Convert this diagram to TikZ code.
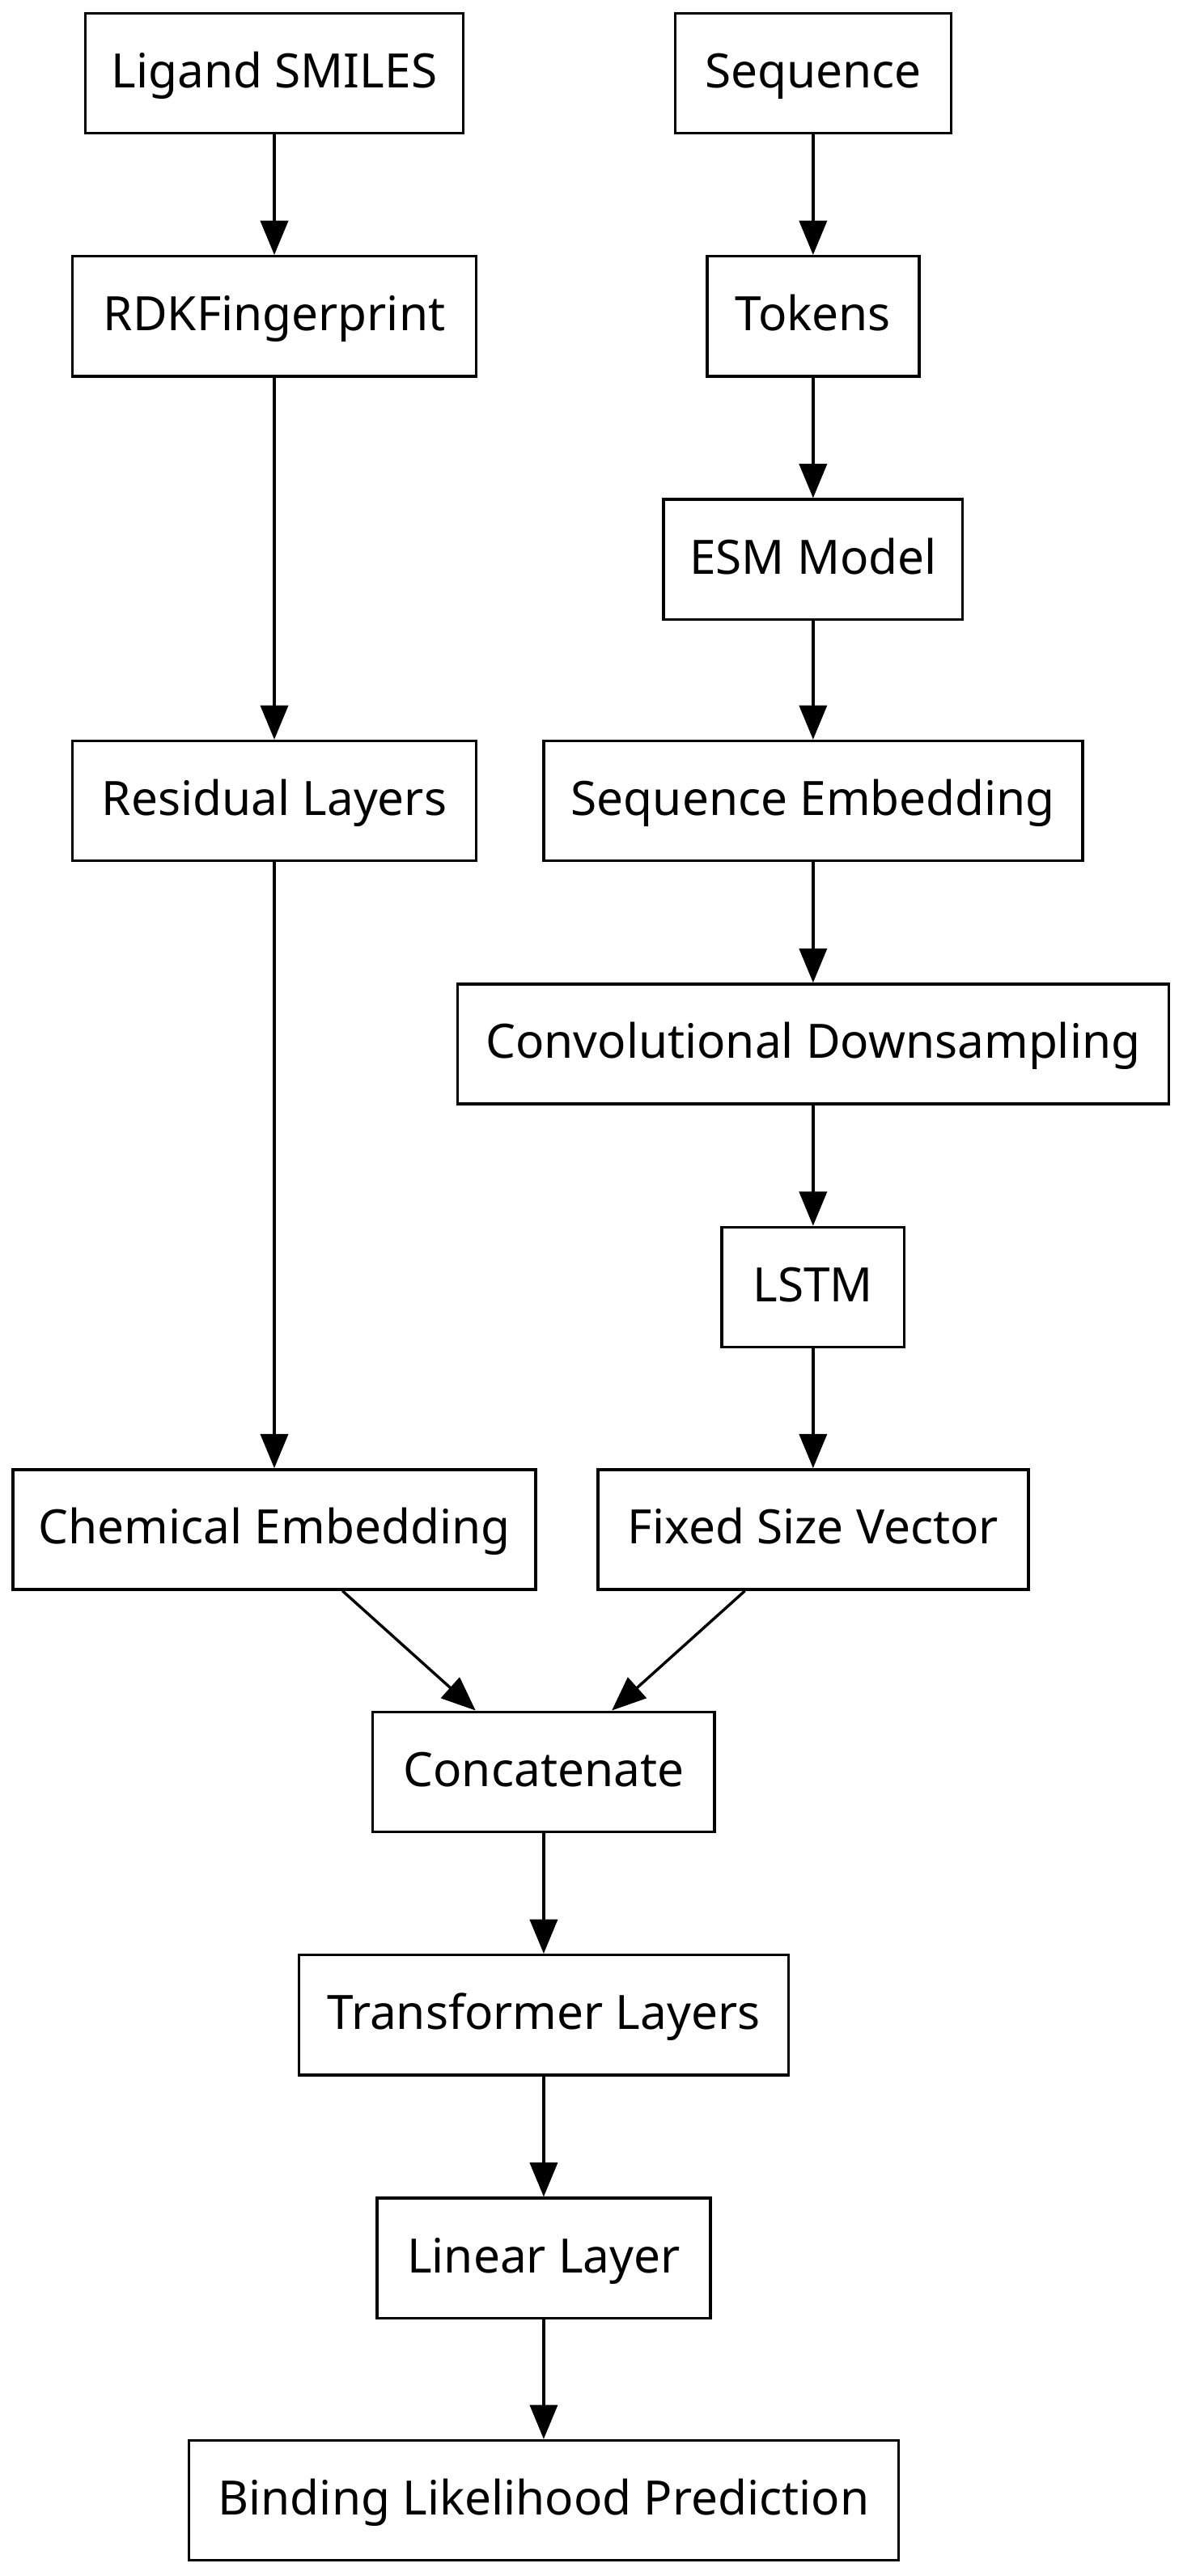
\documentclass[tikz,border=0pt]{standalone}
\usepackage{fontspec}
\setmainfont{Noto Sans}
\usepackage{tikz}
\usetikzlibrary{arrows.meta}
\tikzset{
    >={Triangle[length=0.52cm, width=0.42cm]},
    blk/.style={rectangle, draw, line width=1.2pt, minimum height=1.825cm, inner sep=0pt,
        text height=16.4pt, text depth=3.9pt, font=\fontsize{20.5}{24}\selectfont},
    link/.style={->, line width=1.2pt}
}

\begin{document}
\begin{tikzpicture}[x=0.025cm, y=-0.025cm]
    \useasboundingbox (0,0) rectangle (720,1568);

    % ligand branch
    \node[blk, minimum width=5.75cm] (smiles) at (167,44.5) {Ligand SMILES};
    \node[blk, minimum width=6.15cm] (rdk) at (167,192.5) {RDKFingerprint};
    \node[blk, minimum width=6.15cm] (resid) at (167,487.5) {Residual Layers};
    \node[blk, minimum width=7.95cm] (chem) at (167,931) {Chemical Embedding};

    % protein branch
    \node[blk, minimum width=4.2cm] (seq) at (495,44.5) {Sequence};
    \node[blk, minimum width=3.225cm] (tok) at (495,192.5) {Tokens};
    \node[blk, minimum width=4.55cm] (esm) at (495,340.5) {ESM Model};
    \node[blk, minimum width=8.2cm] (seqemb) at (495,487.5) {Sequence Embedding};
    \node[blk, minimum width=10.825cm] (conv) at (495,635.5) {Convolutional Downsampling};
    \node[blk, minimum width=2.775cm] (lstm) at (495,783.5) {LSTM};
    \node[blk, minimum width=6.55cm] (fixed) at (495,931) {Fixed Size Vector};

    % joint head
    \node[blk, minimum width=5.2cm] (concat) at (331,1078.5) {Concatenate};
    \node[blk, minimum width=7.45cm] (trans) at (331,1226.5) {Transformer Layers};
    \node[blk, minimum width=5.075cm] (linear) at (331,1374.5) {Linear Layer};
    \node[blk, minimum width=10.8cm] (pred) at (331,1522) {Binding Likelihood Prediction};

    \path[link] (smiles) edge (rdk)
          (rdk) edge (resid)
          (resid) edge (chem);
    \path[link] (seq) edge (tok)
          (tok) edge (esm)
          (esm) edge (seqemb)
          (seqemb) edge (conv)
          (conv) edge (lstm)
          (lstm) edge (fixed);
    \path[link] (chem) edge (concat)
          (fixed) edge (concat)
          (concat) edge (trans)
          (trans) edge (linear)
          (linear) edge (pred);
\end{tikzpicture}
\end{document}
